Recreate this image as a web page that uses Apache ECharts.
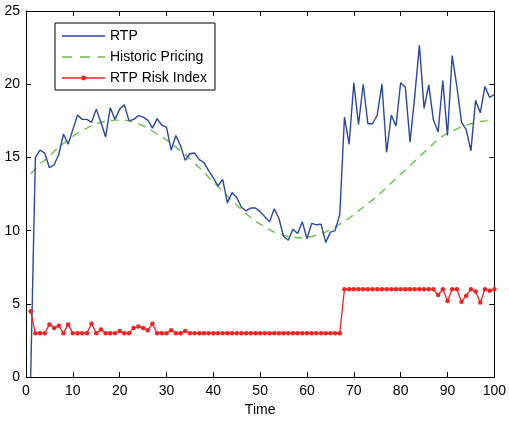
<!DOCTYPE html>
<html>
<head>
<meta charset="utf-8">
<script src="https://cdn.jsdelivr.net/npm/echarts@6/dist/echarts.min.js"></script>
<style>html,body{margin:0;padding:0;background:#fff;}#c{width:509px;height:422px;}</style>
</head>
<body>
<div id="c"></div>
<script>
// Time steps 1..100 (index + 1)
const rtp = [
  0, 15.0, 15.5, 15.3, 14.3, 14.5, 15.2, 16.6, 15.9, 16.9,
  17.9, 17.6, 17.6, 17.4, 18.3, 17.4, 16.4, 18.4, 17.6, 18.3,
  18.6, 17.5, 17.6, 17.85, 17.75, 17.55, 17.0, 17.65, 17.2, 17.05,
  15.5, 16.5, 15.8, 14.8, 15.25, 15.3, 14.85, 14.65, 14.1, 13.6,
  13.05, 13.5, 11.9, 12.6, 12.25, 11.6, 11.35, 11.55, 11.55, 11.3,
  10.95, 10.6, 11.5, 10.85, 9.6, 9.35, 10.1, 9.8, 10.6, 9.45,
  10.5, 10.4, 10.45, 9.2, 9.9, 10.0, 11.1, 17.75, 15.9, 20.1,
  17.25, 20.0, 17.3, 17.3, 17.9, 20.0, 15.35, 17.9, 17.15, 20.1,
  19.8, 16.05, 19.15, 22.65, 18.35, 19.95, 17.55, 16.75, 20.25, 16.5,
  21.95, 19.85, 17.4, 16.9, 15.45, 18.9, 18.05, 19.85, 19.1, 19.3
];
const historic = [
  13.9, 14.2, 14.6, 14.8, 15.1, 15.4, 15.7, 15.95, 16.2, 16.45,
  16.65, 16.85, 17.0, 17.15, 17.3, 17.4, 17.47, 17.52, 17.55, 17.55,
  17.55, 17.5, 17.4, 17.3, 17.15, 17.0, 16.8, 16.6, 16.4, 16.2,
  15.95, 15.7, 15.45, 15.2, 14.9, 14.6, 14.3, 14.0, 13.65, 13.35,
  13.0, 12.7, 12.35, 12.05, 11.75, 11.45, 11.15, 10.9, 10.65, 10.45,
  10.25, 10.05, 9.9, 9.8, 9.68, 9.6, 9.55, 9.52, 9.52, 9.55,
  9.6, 9.68, 9.8, 9.92, 10.08, 10.25, 10.45, 10.65, 10.85, 11.1,
  11.35, 11.6, 11.85, 12.1, 12.38, 12.65, 12.95, 13.25, 13.55, 13.85,
  14.15, 14.45, 14.75, 15.05, 15.35, 15.65, 15.95, 16.25, 16.45, 16.65,
  16.8, 16.95, 17.1, 17.2, 17.3, 17.4, 17.45, 17.5, 17.5, 17.5
];
const risk = [
  4.5, 3.0, 3.0, 3.0, 3.6, 3.35, 3.5, 3.0, 3.6, 3.0,
  3.0, 3.0, 3.0, 3.65, 3.0, 3.25, 3.0, 3.0, 3.0, 3.15,
  3.0, 3.0, 3.35, 3.45, 3.35, 3.2, 3.65, 3.0, 3.0, 3.0,
  3.2, 3.0, 3.0, 3.15, 3.0, 3.0, 3.0, 3.0, 3.0, 3.0,
  3.0, 3.0, 3.0, 3.0, 3.0, 3.0, 3.0, 3.0, 3.0, 3.0,
  3.0, 3.0, 3.0, 3.0, 3.0, 3.0, 3.0, 3.0, 3.0, 3.0,
  3.0, 3.0, 3.0, 3.0, 3.0, 3.0, 3.0, 6.0, 6.0, 6.0,
  6.0, 6.0, 6.0, 6.0, 6.0, 6.0, 6.0, 6.0, 6.0, 6.0,
  6.0, 6.0, 6.0, 6.0, 6.0, 6.0, 6.0, 5.6, 6.0, 5.2,
  6.0, 6.0, 5.15, 5.55, 6.0, 5.85, 5.1, 6.0, 5.9, 6.0
];
const seriesNames = ['RTP', 'Historic Pricing', 'RTP Risk Index'];
const xTicks = { min: 0, max: 100, interval: 10 };
const yTicks = { min: 0, max: 25, interval: 5 };

const pairs = arr => arr.map((v, i) => [i + 1, v]);
const font = 'Liberation Sans, Arial, Helvetica, sans-serif';

const colors = { rtp: '#2947a5', hist: '#6cc04a', risk: '#ee2424' };

// legend glyphs (line samples)
const iconSolid = 'path://M0,-0.7h43v1.4h-43z';
const iconDashed = 'path://M0,-0.7h10v1.4h-10z M18,-0.7h10v1.4h-10z M36,-0.7h7v1.4h-7z';
const iconDot = 'path://M0,-0.65h19.3v1.3h-19.3z M23.7,-0.65h19.3v1.3h-19.3z M19.1,0a2.4,2.4 0 1,0 4.8,0a2.4,2.4 0 1,0 -4.8,0z M21.5,-2.4v0';

const axisCommon = {
  axisLine: { show: true, onZero: false, lineStyle: { color: '#000', width: 1 } },
  axisTick: { show: true, inside: true, length: 5, lineStyle: { color: '#000' } },
  splitLine: { show: false }
};

const chart = echarts.init(document.getElementById('c'), null, { renderer: 'canvas' });
chart.setOption({
  animation: false,
  backgroundColor: '#fff',
  grid: { left: 26, right: 12, top: 11, bottom: 41, containLabel: false },
  legend: {
    orient: 'vertical',
    left: 55, top: 23,
    itemWidth: 43, itemHeight: 14, itemGap: 7,
    padding: [6, 8, 5, 7],
    borderColor: '#000', borderWidth: 1, borderRadius: 0,
    backgroundColor: '#fff',
    symbolKeepAspect: true,
    textStyle: { fontFamily: font, fontSize: 14, color: '#000' },
    data: [
      { name: seriesNames[0], icon: iconSolid, itemStyle: { color: colors.rtp, borderWidth: 0 } },
      { name: seriesNames[1], icon: iconDashed, itemStyle: { color: colors.hist, borderWidth: 0 } },
      { name: seriesNames[2], icon: iconDot, itemStyle: { color: colors.risk, borderWidth: 0 } }
    ]
  },
  xAxis: [
    Object.assign({ type: 'value', position: 'bottom', min: xTicks.min, max: xTicks.max, interval: xTicks.interval,
      name: 'Time', nameLocation: 'middle', nameGap: 23,
      nameTextStyle: { fontFamily: font, fontSize: 14, color: '#000' },
      axisLabel: { fontFamily: font, fontSize: 14, color: '#000', margin: 7 } }, axisCommon),
    Object.assign({ type: 'value', position: 'top', min: xTicks.min, max: xTicks.max, interval: xTicks.interval,
      axisLabel: { show: false } }, axisCommon)
  ],
  yAxis: [
    Object.assign({ type: 'value', position: 'left', min: yTicks.min, max: yTicks.max, interval: yTicks.interval,
      axisLabel: { fontFamily: font, fontSize: 14, color: '#000', margin: 6 } }, axisCommon),
    Object.assign({ type: 'value', position: 'right', min: yTicks.min, max: yTicks.max, interval: yTicks.interval,
      axisLabel: { show: false } }, axisCommon)
  ],
  series: [
    { name: seriesNames[0], type: 'line', data: pairs(rtp), symbol: 'none',
      lineStyle: { color: colors.rtp, width: 1.4 }, itemStyle: { color: colors.rtp }, z: 3 },
    { name: seriesNames[1], type: 'line', data: pairs(historic), symbol: 'none',
      lineStyle: { color: colors.hist, width: 1.4, type: [8, 6] }, itemStyle: { color: colors.hist }, z: 2 },
    { name: seriesNames[2], type: 'line', data: pairs(risk), symbol: 'circle', symbolSize: 4.5, showSymbol: true,
      lineStyle: { color: colors.risk, width: 1.3 }, itemStyle: { color: colors.risk }, z: 4 }
  ]
});
</script>
</body>
</html>
